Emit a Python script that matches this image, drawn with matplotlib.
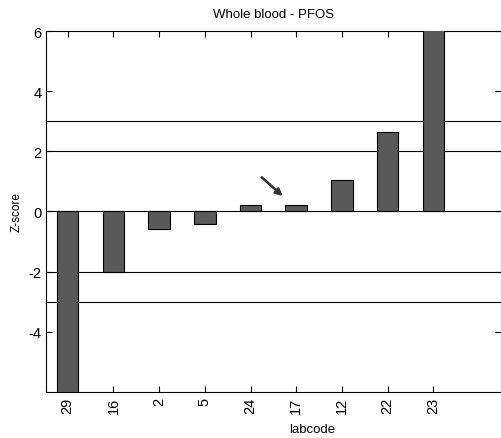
import matplotlib
matplotlib.use('Agg')
import matplotlib.pyplot as plt

labcodes = ['29', '16', '2', '5', '24', '17', '12', '22', '23']
zscores = [-6.8, -2.0, -0.57, -0.4, 0.2, 0.2, 1.05, 2.63, 6.8]
ref_lines = [-3, -2, 0, 2, 3]

plt.rcParams['axes.unicode_minus'] = False
plt.rcParams['font.family'] = ['Liberation Sans', 'DejaVu Sans']

fig = plt.figure(figsize=(5.02, 4.39), dpi=100)
ax = fig.add_axes([0.092, 0.105, 0.906, 0.822])

pos = list(range(1, len(labcodes) + 1))
ax.bar(pos, zscores, width=0.47, color='#595959', edgecolor='black', linewidth=0.8, zorder=3)
for y in ref_lines:
    ax.axhline(y, color='black', linewidth=0.8, zorder=2)

ax.set_xlim(0.53, 10.48)
ax.set_ylim(-6, 6)
ax.set_xticks(pos)
ax.set_xticklabels(labcodes, rotation=90, fontsize=10.5)
ax.set_yticks([-4, -2, 0, 2, 4, 6])
ax.tick_params(axis='y', labelsize=10.5)
ax.tick_params(direction='in', top=True, right=True, length=4)

ax.annotate('', xy=(5.75, 0.45), xytext=(5.2, 1.2),
            arrowprops=dict(arrowstyle='-|>', color='#333333', lw=1.8, mutation_scale=10))

ax.set_title('Whole blood - PFOS', fontsize=9.5, pad=10)
ax.set_xlabel('labcode', fontsize=9.5)
ax.xaxis.set_label_coords(0.585, -0.085)
ax.set_ylabel('Z-score', fontsize=8.5)

fig.savefig('out.png', dpi=100)
